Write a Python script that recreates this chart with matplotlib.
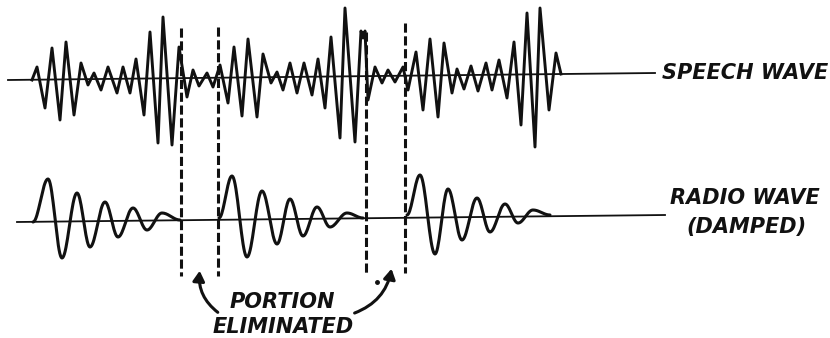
import numpy as np
import matplotlib
matplotlib.use('Agg')
import matplotlib.pyplot as plt
from matplotlib.patches import FancyArrowPatch

# speech wave vertices (pixel coords, y down)
speech_x = [32, 37, 45, 52, 60, 66, 74, 81, 88, 94, 101, 108, 117, 123, 130, 136,
            144, 150, 158, 163, 172, 179, 187, 193, 199, 207, 213, 220, 228, 234,
            242, 248, 257, 263, 271, 277, 283, 290, 297, 304, 312, 318, 325, 331,
            340, 345, 355, 361, 363, 365, 368, 375, 382, 388, 395, 403, 408, 416, 423,
            430, 438, 444, 452, 457, 464, 471, 478, 486, 492, 499, 507, 514, 521,
            527, 535, 540, 549, 556, 561]
speech_y = [80, 67, 108, 48, 120, 42, 115, 63, 85, 73, 90, 67, 93, 67, 93, 59,
            115, 32, 143, 17, 145, 47, 97, 70, 86, 73, 87, 65, 103, 47,
            116, 39, 117, 54, 83, 72, 90, 63, 93, 63, 95, 59, 108, 37,
            138, 8, 142, 31, 38, 31, 100, 67, 83, 70, 82, 67, 90, 52, 110,
            39, 117, 43, 93, 69, 89, 66, 91, 63, 90, 60, 98, 42, 125,
            13, 147, 8, 110, 53, 74]

# damped radio wave bursts: extrema (start, peaks/troughs, end)
radio_bursts = [
    ([33, 48, 62, 77, 90, 105, 118, 133, 147, 162, 180],
     [222, 179, 258, 193, 247, 202, 237, 208, 230, 213, 220]),
    ([219, 232, 247, 262, 277, 290, 303, 317, 330, 347, 363],
     [218, 176, 257, 191, 244, 199, 236, 207, 227, 213, 218]),
    ([407, 420, 435, 448, 462, 477, 490, 505, 518, 533, 550],
     [215, 175, 254, 189, 240, 198, 232, 204, 223, 210, 215]),
]

# dashed cut lines: x, top, bottom
cut_x = [181, 218, 366, 405]
cut_top = [28, 27, 32, 23]
cut_bot = [276, 276, 274, 273]

fig = plt.figure(figsize=(8.3, 3.38), dpi=100)
ax = fig.add_axes([0, 0, 1, 1])
ax.set_xlim(0, 830)
ax.set_ylim(338, 0)
ax.axis('off')

ink = '#111111'

# baselines
ax.plot([8, 655], [80, 73], color=ink, lw=1.3)
ax.plot([17, 665], [222, 215], color=ink, lw=1.3)

# speech wave
ax.plot(speech_x, speech_y, color=ink, lw=2.1, solid_joinstyle='round')

# radio wave, half-cosine between extrema
for bx, by in radio_bursts:
    xs, ys = [], []
    t = np.linspace(0, 1, 20)
    for i in range(len(bx) - 1):
        xs.extend(bx[i] + (bx[i + 1] - bx[i]) * t)
        ys.extend(by[i] + (by[i + 1] - by[i]) * (1 - np.cos(np.pi * t)) / 2)
    ax.plot(xs, ys, color=ink, lw=2.2, solid_capstyle='round')

# dashed lines
for x, t0, t1 in zip(cut_x, cut_top, cut_bot):
    ax.plot([x, x], [t0, t1], color=ink, lw=2.2, dashes=(3, 1.2))

# curved arrows
ax.add_patch(FancyArrowPatch((220, 314), (200, 268), connectionstyle='arc3,rad=-0.3',
                             arrowstyle='-|>,head_length=6,head_width=3.5',
                             color=ink, lw=2.2))
ax.add_patch(FancyArrowPatch((352, 314), (392, 266), connectionstyle='arc3,rad=0.3',
                             arrowstyle='-|>,head_length=6,head_width=3.5',
                             color=ink, lw=2.2))
ax.plot([377], [282], 'o', color=ink, ms=2.5)

tkw = dict(color=ink, fontweight='bold', fontstyle='italic',
           family=['Liberation Sans Narrow', 'DejaVu Sans'])
ax.text(745, 73, 'SPEECH WAVE', fontsize=15, ha='center', va='center', **tkw)
ax.text(745, 198, 'RADIO WAVE', fontsize=15, ha='center', va='center', **tkw)
ax.text(746, 227, '(DAMPED)', fontsize=15, ha='center', va='center', **tkw)
ax.text(282, 302, 'PORTION', fontsize=15, ha='center', va='center', **tkw)
ax.text(283, 327, 'ELIMINATED', fontsize=15, ha='center', va='center', **tkw)

fig.savefig('out.png', dpi=100, facecolor='white')
